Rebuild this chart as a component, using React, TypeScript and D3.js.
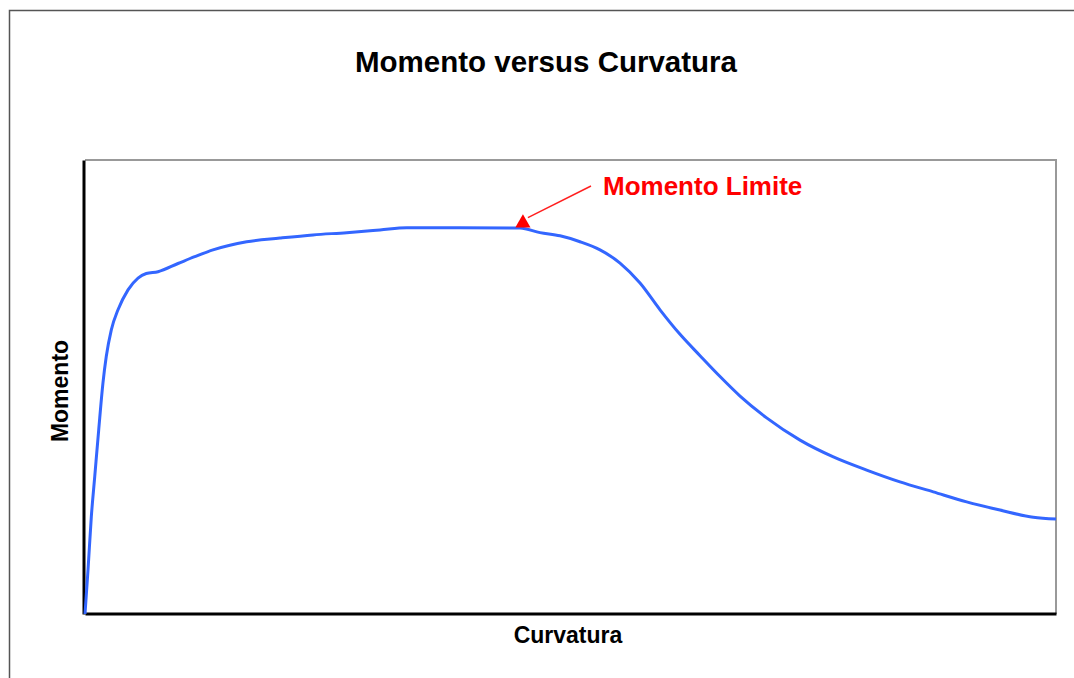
import { useEffect, useRef } from "react";
import * as d3 from "d3";

// curve (arbitrary units, 0..100 on both axes)
const curvatura = [
  0, 0.31, 0.65, 1.0, 1.41, 1.85, 2.19, 2.71, 3.4, 4.43, 5.46, 6.31, 7.52, 9.58,
  11.3, 13.18, 16.65, 20.08, 23.48, 26.95, 30.38, 33.13, 38.6, 44.8, 46.86, 48.92,
  50.98, 53.04, 55.1, 57.16, 59.22, 61.28, 63.34, 65.4, 67.46, 70.2, 73.64,
  77.07, 80.5, 83.93, 87.36, 90.8, 94.23, 97.66, 100,
];
const momento = [
  0, 9.7, 21.4, 30.2, 40.5, 50.9, 56.7, 62.6, 67.0, 71.4, 74.0, 75.0, 75.4, 77.2,
  78.7, 80.2, 82.0, 82.8, 83.5, 84.0, 84.6, 85.1, 85.1, 85.0, 84.0, 83.3,
  82.0, 80.2, 77.3, 72.9, 67.0, 61.6, 56.9, 52.3, 48.0, 43.2, 38.3,
  34.6, 31.7, 29.1, 26.9, 24.7, 22.9, 21.3, 20.9,
];
const limitePoint = [45.1, 85.1];
const limiteLabel = "Momento Limite";
const titulo = "Momento versus Curvatura";
const xLabel = "Curvatura";
const yLabel = "Momento";

const MomentoChart = () => {
  const ref = useRef<SVGSVGElement | null>(null);

  useEffect(() => {
    if (!ref.current) return;
    const svg = d3.select(ref.current);
    svg.selectAll("*").remove();

    const width = 1074;
    const height = 678;
    const left = 85;
    const right = 1056;
    const top = 160;
    const bottom = 614;
    const font = "'Liberation Sans', Arial, sans-serif";

    svg.attr("width", width).attr("height", height);

    svg
      .append("rect")
      .attr("width", width)
      .attr("height", height)
      .attr("fill", "#fff");

    // outer frame, runs off the right and bottom edge
    svg
      .append("rect")
      .attr("x", 9.5)
      .attr("y", 10.5)
      .attr("width", 1100)
      .attr("height", 720)
      .attr("fill", "none")
      .attr("stroke", "#555")
      .attr("stroke-width", 1.5);

    const x = d3.scaleLinear().domain([0, 100]).range([left, right]);
    const y = d3.scaleLinear().domain([0, 100]).range([bottom, top]);

    // grey top / right box
    svg
      .append("path")
      .attr("d", `M${left},${top}H${right}V${bottom}`)
      .attr("fill", "none")
      .attr("stroke", "#999")
      .attr("stroke-width", 2);

    const yAxis = d3.axisLeft(y).ticks(0).tickSize(0).tickSizeOuter(0);
    const xAxis = d3.axisBottom(x).ticks(0).tickSize(0).tickSizeOuter(0);

    svg
      .append("g")
      .attr("transform", `translate(${left - 1.5},0)`)
      .call(yAxis)
      .select(".domain")
      .attr("stroke", "#000")
      .attr("stroke-width", 3);

    svg
      .append("g")
      .attr("transform", `translate(0,${bottom - 0.5})`)
      .call(xAxis)
      .select(".domain")
      .attr("stroke", "#000")
      .attr("stroke-width", 3);

    const pts: [number, number][] = curvatura.map((c, i) => [c, momento[i]]);
    const line = d3
      .line<[number, number]>()
      .x((d) => x(d[0]))
      .y((d) => y(d[1]))
      .curve(d3.curveMonotoneX);

    svg
      .append("path")
      .datum(pts)
      .attr("d", line)
      .attr("fill", "none")
      .attr("stroke", "#3366ff")
      .attr("stroke-width", 3)
      .attr("stroke-linejoin", "round");

    // limit marker + leader line
    const mx = x(limitePoint[0]);
    const my = y(limitePoint[1]);
    svg
      .append("path")
      .attr("d", d3.symbol(d3.symbolTriangle, 100)())
      .attr("transform", `translate(${mx},${my - 4.5})`)
      .attr("fill", "#ff0000");

    svg
      .append("line")
      .attr("x1", mx + 5)
      .attr("y1", my - 10)
      .attr("x2", 591)
      .attr("y2", 186)
      .attr("stroke", "#ff2020")
      .attr("stroke-width", 1.5);

    svg
      .append("text")
      .attr("x", 603)
      .attr("y", 195)
      .attr("font-family", font)
      .attr("font-weight", "bold")
      .attr("font-size", 26)
      .attr("fill", "#ff0000")
      .text(limiteLabel);

    svg
      .append("text")
      .attr("x", 546)
      .attr("y", 72)
      .attr("text-anchor", "middle")
      .attr("font-family", font)
      .attr("font-weight", "bold")
      .attr("font-size", 29.5)
      .attr("fill", "#000")
      .text(titulo);

    svg
      .append("text")
      .attr("x", 568)
      .attr("y", 643)
      .attr("text-anchor", "middle")
      .attr("font-family", font)
      .attr("font-weight", "bold")
      .attr("font-size", 23)
      .attr("fill", "#000")
      .text(xLabel);

    svg
      .append("text")
      .attr("transform", "translate(68,391) rotate(-90)")
      .attr("text-anchor", "middle")
      .attr("font-family", font)
      .attr("font-weight", "bold")
      .attr("font-size", 23)
      .attr("fill", "#000")
      .text(yLabel);
  }, []);

  return (
    <div style={{ position: "absolute", left: 0, top: 0 }}>
      <svg ref={ref} style={{ display: "block" }} />
    </div>
  );
};

export default function App() {
  return <MomentoChart />;
}
